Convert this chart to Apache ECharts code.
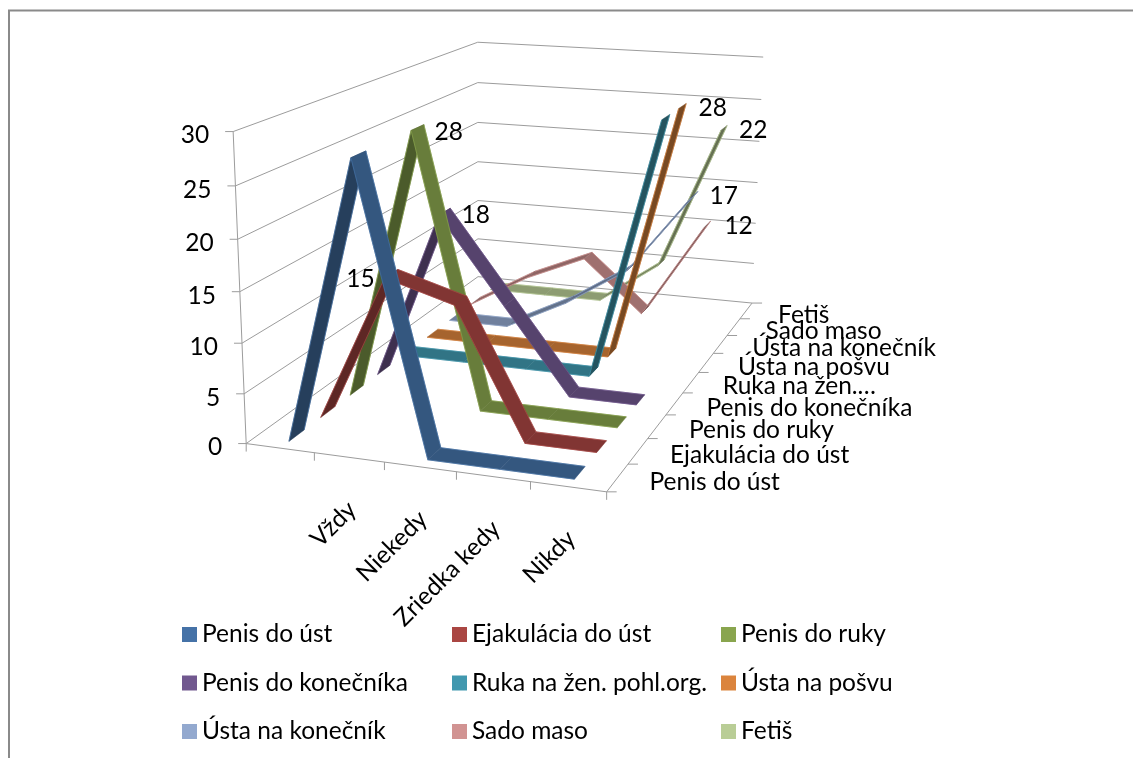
<!DOCTYPE html>
<html>
<head>
<meta charset="utf-8">
<script src="https://cdn.jsdelivr.net/npm/echarts@6/dist/echarts.min.js"></script>
<style>
    html, body { margin: 0; padding: 0; background: #fff; }
    #main { width: 1133px; height: 758px; }
</style>
</head>
<body>
<div id="main"></div>
<script type="text/javascript">
    // data
    var categories = ['', 'Vždy', 'Niekedy', 'Zriedka kedy', 'Nikdy'];
    var yTicks = [0, 5, 10, 15, 20, 25, 30];
    var seriesNames = ['Penis do úst', 'Ejakulácia do úst', 'Penis do ruky', 'Penis do konečníka',
        'Ruka na žen. pohl.org.', 'Ústa na pošvu', 'Ústa na konečník', 'Sado maso', 'Fetiš'];
    var depthLabels = ['Penis do úst', 'Ejakulácia do úst', 'Penis do ruky', 'Penis do konečníka',
        'Ruka na žen.…', 'Ústa na pošvu', 'Ústa na konečník', 'Sado maso', 'Fetiš'];
    var penisDoUst = [0, 28, 0, 0, 0];
    var ejakulacia = [0, 15, 13, 0, 0];
    var penisDoRuky = [0, 28, 0, 0, 0];
    var penisDoKonecnika = [0, 18, 9, 0, 0];
    var rukaNaZen = [0, 0, 0, 0, 28];
    var ustaNaPosvu = [0, 0, 0, 0, 28];
    var ustaNaKonecnik = [0, 0, 3.5, 8, 17];
    var sadoMaso = [0, 4, 7, 1, 12];
    var fetis = [0, 0, 0, 5, 22];
    var allValues = [penisDoUst, ejakulacia, penisDoRuky, penisDoKonecnika, rukaNaZen,
        ustaNaPosvu, ustaNaKonecnik, sadoMaso, fetis];

    var colors = ['#4572A7', '#AA4643', '#89A54E', '#71588F', '#4198AF', '#DB843D', '#93A9CF', '#D19392', '#B9CD96'];
    var fontSize = 24.5;
    var font = fontSize + 'px Lato';
    var gridColor = '#9C9C9C';
    var ribbonHalf = 0.026;     // half ribbon width, in depth units

    // which points carry a value label, and where the label sits from the point
    var pointLabels = [
        { s: 1, c: 1, dx: -45, dy: 5 },
        { s: 2, c: 1, dx: 17, dy: 5 },
        { s: 3, c: 1, dx: 17, dy: 3 },
        { s: 5, c: 4, dx: 16, dy: 2 },
        { s: 8, c: 4, dx: 15, dy: 2 },
        { s: 6, c: 4, dx: 15, dy: 2 },
        { s: 7, c: 4, dx: 17, dy: 2 }
    ];

    // the box seen on the picture: [x, depth, value] -> [px, py]
    var boxCorners = [
        [[0, 0, 0], [246, 443]], [[1, 0, 0], [607, 492]], [[0, 1, 0], [478, 277]], [[1, 1, 0], [752, 303]],
        [[0, 0, 1], [233, 132]], [[0, 1, 1], [478, 42]], [[1, 1, 1], [763, 57]]
    ];

    // camera matrix from the corners, least squares
    function solveCamera(pairs) {
        var rows = [], rhs = [];
        pairs.forEach(function (p) {
            var X = p[0][0], Y = p[0][1], Z = p[0][2], u = p[1][0], v = p[1][1];
            rows.push([X, Y, Z, 1, 0, 0, 0, 0, -u * X, -u * Y, -u * Z]); rhs.push(u);
            rows.push([0, 0, 0, 0, X, Y, Z, 1, -v * X, -v * Y, -v * Z]); rhs.push(v);
        });
        var n = 11, m = [], i, j, k;
        for (i = 0; i < n; i++) {
            m[i] = [];
            for (j = 0; j <= n; j++) {
                var sum = 0;
                for (k = 0; k < rows.length; k++) sum += rows[k][i] * (j < n ? rows[k][j] : rhs[k]);
                m[i][j] = sum;
            }
        }
        for (i = 0; i < n; i++) {
            var best = i;
            for (k = i + 1; k < n; k++) if (Math.abs(m[k][i]) > Math.abs(m[best][i])) best = k;
            var t = m[i]; m[i] = m[best]; m[best] = t;
            for (k = 0; k < n; k++) {
                if (k === i) continue;
                var f = m[k][i] / m[i][i];
                for (j = i; j <= n; j++) m[k][j] -= f * m[i][j];
            }
        }
        return m.map(function (r, idx) { return r[n] / r[idx]; });
    }
    var cam = solveCamera(boxCorners);

    function project(x, d, v) {
        var w = cam[8] * x + cam[9] * d + cam[10] * v + 1;
        return [(cam[0] * x + cam[1] * d + cam[2] * v + cam[3]) / w,
                (cam[4] * x + cam[5] * d + cam[6] * v + cam[7]) / w];
    }

    // pixel of the hidden grid -> [x, value] in 0..1
    function toUnit(pt, cs) {
        return [(pt[0] - cs.x) / cs.width, 1 - (pt[1] - cs.y) / cs.height];
    }

    function shade(hex, f) {
        var n = parseInt(hex.slice(1), 16);
        return 'rgb(' + Math.round((n >> 16) * f) + ',' + Math.round(((n >> 8) & 255) * f) + ',' + Math.round((n & 255) * f) + ')';
    }

    function depthOf(s) { return (s + 0.5) / seriesNames.length; }

    function ribbon(s) {
        var values = allValues[s];
        return function (params, api) {
            var i = params.dataIndex;
            if (i >= values.length - 1) return null;
            var a = toUnit(api.coord([i, values[i]]), params.coordSys);
            var b = toUnit(api.coord([i + 1, values[i + 1]]), params.coordSys);
            var d = depthOf(s);
            var rise = values[i + 1] - values[i];
            var f = rise > 0 ? Math.max(0.55, 0.76 - rise / 40) : 0.76;
            var fill = shade(colors[s], f);
            var a0 = project(a[0], d - ribbonHalf, a[1]), b0 = project(b[0], d - ribbonHalf, b[1]);
            var b1 = project(b[0], d + ribbonHalf, b[1]), a1 = project(a[0], d + ribbonHalf, a[1]);
            return {
                type: 'group',
                children: [
                    { type: 'polygon', shape: { points: [a0, b0, b1, a1] }, style: { fill: fill, stroke: fill, lineWidth: 0.5 } },
                    // lighter long edges, like the bevel of the original ribbons
                    { type: 'line', shape: { x1: a0[0], y1: a0[1], x2: b0[0], y2: b0[1] }, style: { stroke: colors[s], lineWidth: 0.7 } },
                    { type: 'line', shape: { x1: a1[0], y1: a1[1], x2: b1[0], y2: b1[1] }, style: { stroke: colors[s], lineWidth: 0.7 } }
                ]
            };
        };
    }

    function line(p, q, color) {
        return { type: 'line', shape: { x1: p[0], y1: p[1], x2: q[0], y2: q[1] },
            style: { stroke: color || gridColor, lineWidth: 1 } };
    }
    function text(str, x, y, align, rotation) {
        return { type: 'text', x: x, y: y, rotation: rotation || 0,
            style: { text: str, x: 0, y: 0, font: font, fill: '#000', align: align, verticalAlign: 'middle' } };
    }

    // walls, floor, ticks and all the axis texts
    function frame(params, api) {
        var cs = params.coordSys, kids = [], i;
        yTicks.forEach(function (t) {
            var v = toUnit(api.coord([0, t]), cs)[1];
            var p0 = project(0, 0, v), p1 = project(0, 1, v), p2 = project(1, 1, v);
            kids.push(line(p0, p1), line(p1, p2), line([p0[0] - 8, p0[1]], p0));
            kids.push(text(String(t), p0[0] - 24, p0[1] + 4, 'right'));
        });
        kids.push(line(project(0, 0, 0), project(0, 0, 1)));
        kids.push(line(project(0, 0, 0), project(1, 0, 0)), line(project(1, 0, 0), project(1, 1, 0)));
        for (i = 0; i <= categories.length; i++) {
            var q = project(i / categories.length, 0, 0);
            kids.push(line(q, [q[0], q[1] + 8]));
        }
        categories.forEach(function (c, k) {
            var u = toUnit(api.coord([k, 0]), cs)[0];
            var q = project(u, 0, 0);
            kids.push(text(c, q[0] + 3, q[1] + 48, 'right', Math.PI / 4));
        });
        for (i = 0; i <= seriesNames.length; i++) {
            var e = project(1, i / seriesNames.length, 0);
            kids.push(line(e, [e[0] + 10, e[1]]));
        }
        depthLabels.forEach(function (name, s) {
            var e = project(1, depthOf(s), 0);
            kids.push(text(name, e[0] + 32, e[1] + 4, 'left'));
        });
        return { type: 'group', children: kids };
    }

    function valueLabel(params, api) {
        var l = pointLabels[params.dataIndex];
        var val = allValues[l.s][l.c];
        var u = toUnit(api.coord([l.c, val]), params.coordSys);
        var p = project(u[0], depthOf(l.s), u[1]);
        return text(String(val), p[0] + l.dx, p[1] + l.dy, 'left');
    }

    var myChart = echarts.init(document.getElementById('main'), null, { renderer: 'canvas' });

    var series = [{
        type: 'custom', name: 'frame', coordinateSystem: 'cartesian2d', clip: false, z: 1,
        data: [[0, 0]], renderItem: frame, silent: true
    }];
    seriesNames.forEach(function (name, s) {
        series.push({
            type: 'custom', name: name, coordinateSystem: 'cartesian2d', clip: false,
            z: 20 - s,
            itemStyle: { color: colors[s] },
            data: allValues[s].map(function (v, i) { return [i, v]; }),
            renderItem: ribbon(s)
        });
    });
    series.push({
        type: 'custom', name: 'labels', coordinateSystem: 'cartesian2d', clip: false, z: 30,
        data: pointLabels.map(function (l) { return [l.c, allValues[l.s][l.c]]; }),
        renderItem: valueLabel, silent: true
    });

    function legendColumn(names, left) {
        return {
            orient: 'vertical', left: left, top: 617, itemWidth: 15, itemHeight: 15, itemGap: 23.5,
            icon: 'rect', selectedMode: false, data: names,
            textStyle: { fontFamily: 'Lato', fontSize: fontSize, color: '#000', lineHeight: 24 }
        };
    }

    var option = {
        animation: false,
        backgroundColor: '#fff',
        // hidden scales behind the projection
        grid: { left: 100, top: 100, width: 500, height: 300 },
        xAxis: { type: 'category', data: categories, show: false },
        yAxis: { type: 'value', min: 0, max: 30, interval: 5, show: false },
        legend: [
            legendColumn([seriesNames[0], seriesNames[3], seriesNames[6]], 177),
            legendColumn([seriesNames[1], seriesNames[4], seriesNames[7]], 447),
            legendColumn([seriesNames[2], seriesNames[5], seriesNames[8]], 716)
        ],
        // outer frame of the cropped screenshot
        graphic: [
            { type: 'line', shape: { x1: 8, y1: 10.5, x2: 1133, y2: 10.5 }, style: { stroke: '#8A8A8A', lineWidth: 2 } },
            { type: 'line', shape: { x1: 9, y1: 10, x2: 9, y2: 758 }, style: { stroke: '#8A8A8A', lineWidth: 2 } }
        ],
        series: series
    };

    myChart.setOption(option);
</script>
</body>
</html>
